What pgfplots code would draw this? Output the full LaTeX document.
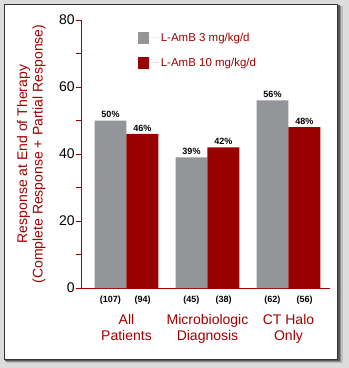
\documentclass[border=0pt]{standalone}
\usepackage{pgfplots}
\pgfplotsset{compat=1.18}
\usepackage{fontspec}
\setmainfont{Liberation Sans}
\definecolor{bargray}{HTML}{939598}
\definecolor{barred}{HTML}{990000}
\definecolor{txtred}{HTML}{A00000}
\definecolor{bgout}{HTML}{DCDCDC}
\begin{document}
\begin{tikzpicture}
% picture frame: pixel (px,py) -> (px-126.5, 288-py) in pt; axis origin at (0,0)
\begin{scope}[x=1pt,y=1pt,shift={(-126.5pt,-80pt)}]
\fill[bgout] (0,0) rectangle (349,368);
\fill[black!25] (7,5) rectangle (343.5,362);
\fill[black!45] (6,6) rectangle (341.5,362.5);
\fill[black!65] (5.5,7) rectangle (340,363);
\filldraw[fill=white,draw=black!80,line width=1pt] (5,9) rectangle (338,363.5);
\end{scope}
\begin{axis}[
  at={(0pt,0pt)}, anchor=origin,
  scale only axis, width=249pt, height=268pt,
  xmin=-0.562, xmax=2.512, ymin=0, ymax=80,
  /pgf/number format/assume math mode=true,
  axis x line*=bottom, axis y line*=left,
  axis line style={txtred, line width=0.9pt, -},
  every tick/.style={txtred, line width=0.9pt},
  tick align=outside,
  major tick length=5pt, minor tick length=5pt,
  ytick={0,20,40,60,80}, minor ytick={10,30,50,70},
  yticklabel style={black, font=\fontsize{14}{16}\selectfont, inner sep=1pt},
  xtick={-0.2,0.2,0.8,1.2,1.8,2.2},
  xticklabels={(107),(94),(45),(38),(62),(56)},
  xticklabel style={black, font=\bfseries\fontsize{9}{10}\selectfont, inner sep=1pt, yshift=-2pt},
  x tick style={draw=none},
  minor xtick={0.5,1.5},
  minor x tick style={txtred, line width=0.9pt},
  extra x ticks={0,1,2},
  extra x tick labels={All\\Patients, Microbiologic\\Diagnosis, CT Halo\\Only},
  extra x tick style={major tick length=0pt, tick style={draw=none},
    xticklabel style={text=txtred, align=center, font=\mdseries\fontsize{14}{16.5}\selectfont, yshift=-23pt}},
  ylabel={Response at End of Therapy\\(Complete Response + Partial Response)},
  ylabel style={at={(axis description cs:-0.2,0.5)}, anchor=center, rotate=0, align=center,
    text=txtred, font=\fontsize{14}{15.5}\selectfont},
  ybar=0pt, bar width=0.395,
  nodes near coords={\pgfmathprintnumber{\pgfplotspointmeta}\%},
  every node near coord/.append style={black, font=\bfseries\fontsize{9}{10}\selectfont, inner sep=1pt, yshift=1.5pt},
  legend style={at={(axis cs:0.10,77.2)}, anchor=north west, draw=none, fill=none,
    font=\fontsize{11.5}{13}\selectfont, text=txtred, row sep=13pt,
    nodes={inner sep=1pt}},
  legend image code/.code={\fill[#1] (0pt,-6pt) rectangle (11pt,6pt); \path (0pt,0pt) -- (22pt,0pt);},
  legend cell align=left,
]
\addplot[fill=bargray, draw=none] coordinates {(0,50) (1,39) (2,56)};
\addplot[fill=barred, draw=none] coordinates {(0,46) (1,42) (2,48)};
\legend{L-AmB 3 mg/kg/d, L-AmB 10 mg/kg/d}
\end{axis}
\pgfresetboundingbox
\path (-126.5pt,-80pt) rectangle (222.5pt,288pt);
\end{tikzpicture}
\end{document}
